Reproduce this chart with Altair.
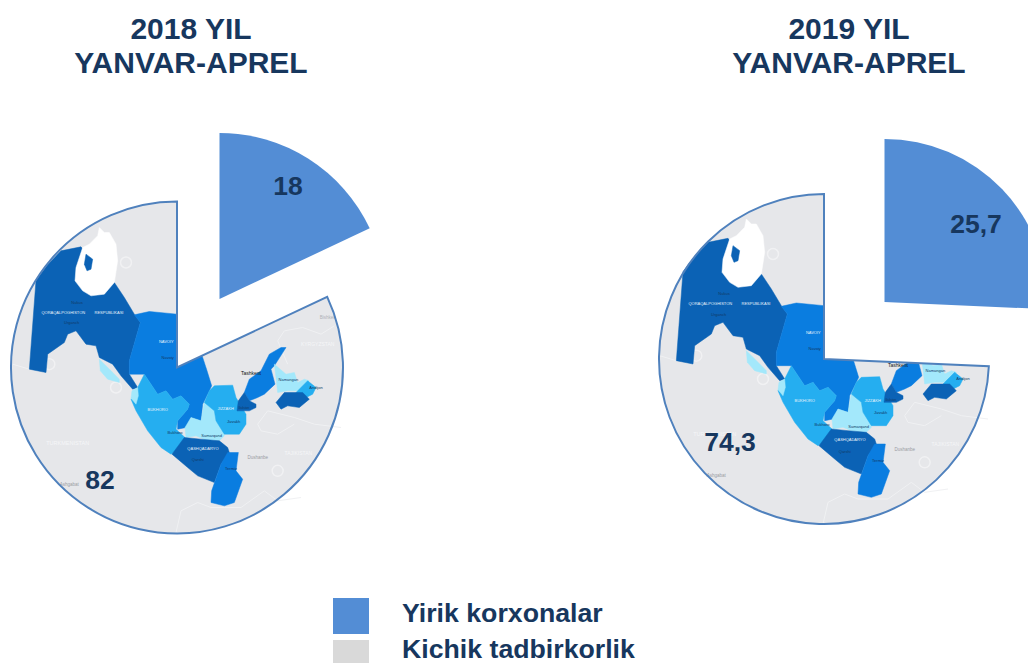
import altair as alt
import pandas as pd

W, H = 1020, 655
BLUE, GREY, BORDER, INK = "#538dd5", "#e6e7ea", "#4f81bd", "#17375e"
DARK, MID, LIGHT, PALE = "#0b62b5", "#0a7de0", "#25aef0", "#a3e8fb"

# values
years = ["2018 YIL", "2019 YIL"]
subtitle = "YANVAR-APREL"
big_share = [18, 25.7]
small_share = [82, 74.3]
big_labels = ["18", "25,7"]
small_labels = ["82", "74,3"]
legend_names = ["Yirik korxonalar", "Kichik tadbirkorlik"]

# layout (picture pixels)
pie_cx = [177, 824]
pie_cy = [367.5, 359]
pie_r = [166, 165]
slice_cx = [219.5, 884.5]
slice_cy = [299, 302]
slice_r = [166, 163]
title_cx = [191, 849]
big_lx = [288, 976]
big_ly = [187, 225]
small_lx = [100, 730]
small_ly = [481, 443]

# map outline (units: 1/3 px, pie centre at 528,530)
qoraqalpoq = [(105,268),(140,222),(180,180),(240,168),(300,250),(340,275),(370,320),(400,370),(418,395),(385,510),(385,550),(410,590),(395,595),(360,555),(335,520),(295,500),(285,465),(255,460),(225,420),(200,430),(190,455),(140,490),(135,545),(85,535)]
navoiy = [(400,372),(445,362),(528,370),(528,500),(595,470),(615,530),(632,585),(625,600),(605,640),(600,690),(570,680),(555,710),(530,715),(530,690),(560,655),(565,640),(540,615),(515,625),(495,600),(470,610),(430,550),(385,550),(385,510),(418,395)]
bukhoro = [(410,590),(430,550),(470,610),(495,600),(515,625),(540,615),(565,640),(560,655),(530,690),(525,715),(552,740),(540,770),(510,790),(480,770),(440,720),(405,660),(390,625)]
xorazm = [(295,505),(330,540),(355,565),(355,575),(320,565),(298,540)]
xorazm_strip = [(393,600),(410,590),(412,615),(405,640),(390,622)]
samarqand = [(610,635),(640,660),(645,690),(665,715),(670,735),(655,750),(610,745),(585,735),(555,740),(552,710),(570,680),(600,690)]
jizzakh = [(625,600),(640,585),(695,583),(705,620),(735,670),(735,700),(715,730),(670,730),(645,690),(640,660),(610,635)]
qashqadaryo = [(513,790),(550,740),(600,745),(655,750),(680,770),(685,785),(660,820),(640,875),(590,855),(560,830)]
surxondaryo = [(680,785),(712,785),(705,840),(725,865),(700,935),(670,945),(630,935),(632,900),(660,820)]
toshkent = [(855,470),(820,525),(810,535),(822,580),(790,610),(770,620),(745,630),(730,605),(745,565),(780,540),(805,490),(840,470)]
sirdaryo = [(730,605),(745,630),(765,640),(765,650),(745,660),(708,660),(712,630)]
namangan = [(820,520),(855,550),(880,545),(890,575),(910,565),(925,570),(895,600),(860,600),(830,605),(825,560)]
andijon = [(920,570),(945,590),(935,610),(905,625),(885,605)]
fargona = [(825,635),(850,605),(905,605),(925,625),(895,650),(860,645),(840,655)]
aral = [(245,170),(225,230),(222,270),(245,300),(270,315),(310,310),(340,275),(350,210),(345,160),(325,125),(310,125),(295,110),(290,135),(265,160)]
aral_isle = [(255,190),(275,205),(270,235),(258,240),(250,220)]
regions = [(qoraqalpoq,DARK),(navoiy,MID),(bukhoro,LIGHT),(xorazm,PALE),(xorazm_strip,PALE),(samarqand,PALE),(jizzakh,LIGHT),
           (qashqadaryo,DARK),(surxondaryo,MID),(toshkent,MID),(sirdaryo,DARK),(namangan,PALE),(andijon,LIGHT),
           (fargona,DARK),(aral,"#ffffff"),(aral_isle,DARK)]

borders = [
    [(35,520),(85,535)],
    [(1000,405),(960,430),(905,410),(850,420),(830,450),(860,520)],
    [(1020,710),(940,700),(880,680),(800,660),(770,700),(780,720),(830,730),(880,700)],
    [(525,1025),(540,960),(590,935),(630,950),(720,950),(790,900),(830,930),(900,920)],
]
swirls = [(375,215),(145,520),(598,530),(830,840),(345,590)]
map_labels = [
    ("QORAQALPOGHISTON",187,366,"#e6f2fb",4),("RESPUBLIKASI",324,366,"#e6f2fb",4),("Nukus",228,335,"#123a66",4),
    ("Urganch",212,397,"#123a66",4),("NAVOIY",496,453,"#e6f2fb",4),("Navoiy",500,500,"#123a66",4),
    ("BUKHORO",470,657,"#e6f2fb",4),("JIZZAKH",674,655,"#e6f2fb",4),("Jizzakh",698,693,"#123a66",4),
    ("Samarqand",632,735,"#123a66",4),("QASHQADARYO",606,774,"#e6f2fb",4),("Qarshi",590,808,"#123a66",4),
    ("Termiz",690,835,"#123a66",4),("Bukhoro",522,727,"#123a66",4),("Tashkent",750,547,"#111111",5),
    ("Namangan",862,567,"#123a66",4),("Andijon",945,591,"#123a66",4),("Guliston",728,652,"#123a66",3),
    ("TURKMENISTAN",200,755,"#f5f6f8",5.5),("TAJIKISTAN",892,786,"#f5f6f8",5),("KYRGYZSTAN",950,460,"#f5f6f8",5),
    ("Dushanbe",770,802,"#9a9ca3",4.5),("Bishkek",980,380,"#b0b2b8",4.5),("Ashgabat",205,881,"#9a9ca3",4.5),
]

xs = alt.Scale(domain=[8, 8 + W], range=[0, W])
ys = alt.Scale(domain=[8, 8 + H], range=[0, H])
X = lambda f="x": alt.X(f"{f}:Q", scale=xs, axis=None)
Y = lambda f="y": alt.Y(f"{f}:Q", scale=ys, axis=None)
theta_scale = alt.Scale(domain=[0, 100], range=[0, 6.283185307])


def rel(zx, zy, k):
    return pie_cx[k] + (zx - 528) / 3, pie_cy[k] + (zy - 530) / 3


def arc_layer(row, radius, **style):
    return alt.Chart(pd.DataFrame([row])).mark_arc(radius=radius, **style).encode(
        x=X(), y=Y(),
        theta=alt.Theta("a:Q", scale=theta_scale, stack=None),
        theta2=alt.Theta2("b:Q"),
    )


def poly_layer(points, color, stroke_width=0.5):
    rows = []
    for k in range(2):
        for i, (zx, zy) in enumerate(list(points) + [points[0]]):
            x, y = rel(zx, zy, k)
            rows.append({"x": x, "y": y, "i": i, "k": k})
    return alt.Chart(pd.DataFrame(rows)).mark_line(fill=color, stroke=color, strokeWidth=stroke_width, interpolate="linear").encode(
        x=X(), y=Y(), detail="k:N", order="i:Q")


layers = []
big_rows = [{"x": pie_cx[k], "y": pie_cy[k], "a": big_share[k], "b": big_share[k] + small_share[k]} for k in range(2)]
gap_rows = [{"x": pie_cx[k], "y": pie_cy[k], "a": 0, "b": big_share[k]} for k in range(2)]
slice_rows = [{"x": slice_cx[k], "y": slice_cy[k], "a": 0, "b": big_share[k]} for k in range(2)]

for k in range(2):
    layers.append(arc_layer(big_rows[k], pie_r[k], fill=GREY))

border_rows = []
for n, line in enumerate(borders):
    for i, (zx, zy) in enumerate(line):
        for k in range(2):
            x, y = rel(zx, zy, k)
            border_rows.append({"x": x, "y": y, "i": i, "g": f"{n}-{k}"})
layers.append(alt.Chart(pd.DataFrame(border_rows)).mark_line(color="#f0f1f3", strokeWidth=1).encode(
    x=X(), y=Y(), detail="g:N", order="i:Q"))

swirl_rows = [dict(zip("xy", rel(zx, zy, k))) for zx, zy in swirls for k in range(2)]
layers.append(alt.Chart(pd.DataFrame(swirl_rows)).mark_point(shape="circle", size=120, color="#ffffff", strokeWidth=1.5, opacity=0.45, filled=False).encode(x=X(), y=Y()))

for pts, col in regions:
    layers.append(poly_layer(pts, col))

label_rows = []
for name, zx, zy, col, sz in map_labels:
    for k in range(2):
        x, y = rel(zx, zy, k)
        label_rows.append({"x": x, "y": y, "t": name, "c": col, "s": sz})
layers.append(alt.Chart(pd.DataFrame(label_rows)).mark_text(font="Liberation Sans", align="center", baseline="middle").encode(
    x=X(), y=Y(), text="t:N", color=alt.Color("c:N", scale=None), size=alt.Size("s:Q", scale=None)))

for k in range(2):
    layers.append(arc_layer(gap_rows[k], pie_r[k] + 7, fill="#ffffff"))
    layers.append(arc_layer(big_rows[k], pie_r[k], fillOpacity=0, stroke=BORDER, strokeWidth=2, strokeJoin="miter"))
    layers.append(arc_layer(slice_rows[k], slice_r[k], fill=BLUE))

# titles
title_rows = []
for k in range(2):
    title_rows.append({"x": title_cx[k], "y": 29.5, "t": years[k]})
    title_rows.append({"x": title_cx[k], "y": 64, "t": subtitle})
layers.append(alt.Chart(pd.DataFrame(title_rows)).mark_text(font="Liberation Sans", fontWeight="bold", fontSize=30, color=INK, align="center", baseline="middle").encode(
    x=X(), y=Y(), text="t:N"))

num_rows = [{"x": big_lx[k], "y": big_ly[k], "t": big_labels[k]} for k in range(2)] + \
           [{"x": small_lx[k], "y": small_ly[k], "t": small_labels[k]} for k in range(2)]
layers.append(alt.Chart(pd.DataFrame(num_rows)).mark_text(font="Liberation Sans", fontWeight="bold", fontSize=26.5, color=INK, align="center", baseline="middle").encode(
    x=X(), y=Y(), text="t:N"))

# legend
legend_rows = [
    {"x": 333, "x2": 369, "y": 598, "y2": 634, "c": BLUE},
    {"x": 333, "x2": 369, "y": 640, "y2": 663, "c": "#d9d9d9"},
]
layers.append(alt.Chart(pd.DataFrame(legend_rows)).mark_rect().encode(
    x=X(), x2="x2:Q", y=Y(), y2="y2:Q", color=alt.Color("c:N", scale=None)))
legend_text = [{"x": 402, "y": 614, "t": legend_names[0]}, {"x": 402, "y": 649.5, "t": legend_names[1]}]
layers.append(alt.Chart(pd.DataFrame(legend_text)).mark_text(font="Liberation Sans", fontWeight="bold", fontSize=26.7, color=INK, align="left", baseline="middle").encode(
    x=X(), y=Y(), text="t:N"))

chart = alt.layer(*layers).properties(
    width=W, height=H, padding=0, autosize=alt.AutoSizeParams(type="none"), background="#ffffff"
).configure_view(stroke=None)

chart.save("out.html", embed_options={"renderer": "svg", "actions": False})
